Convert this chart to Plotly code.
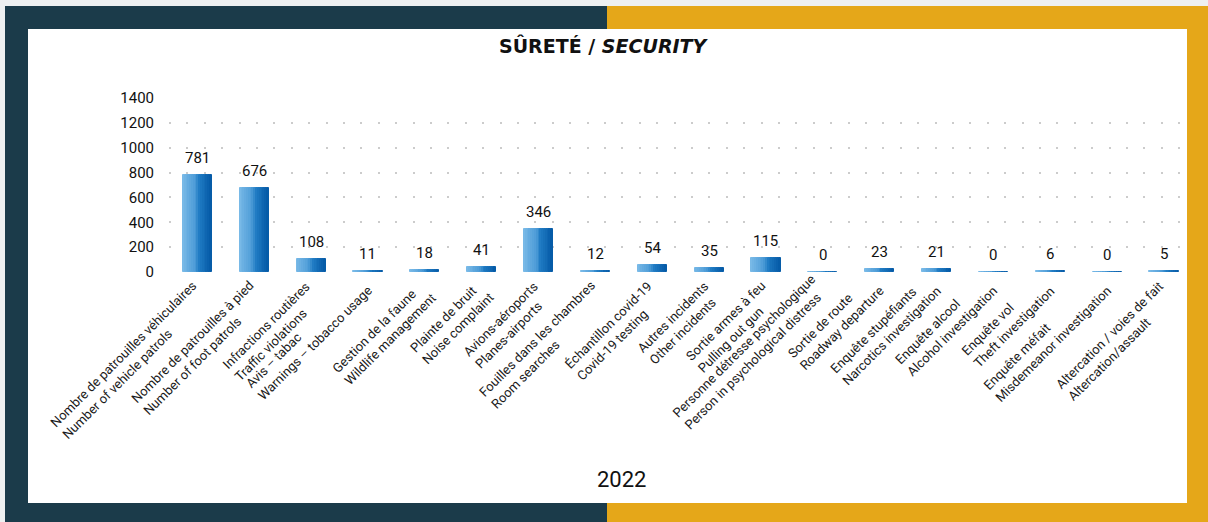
import plotly.graph_objects as go

# ---- data -------------------------------------------------------------
labels_fr = [
    "Nombre de patrouilles véhiculaires",
    "Nombre de patrouilles à pied",
    "Infractions routières",
    "Avis – tabac",
    "Gestion de la faune",
    "Plainte de bruit",
    "Avions-aéroports",
    "Fouilles dans les chambres",
    "Échantillon covid-19",
    "Autres incidents",
    "Sortie armes à feu",
    "Personne détresse psychologique",
    "Sortie de route",
    "Enquête stupéfiants",
    "Enquête alcool",
    "Enquête vol",
    "Enquête méfait",
    "Altercation / voies de fait",
]
labels_en = [
    "Number of vehicle patrols",
    "Number of foot patrols",
    "Traffic violations",
    "Warnings – tobacco usage",
    "Wildlife management",
    "Noise complaint",
    "Planes-airports",
    "Room searches",
    "Covid-19 testing",
    "Other incidents",
    "Pulling out gun",
    "Person in psychological distress",
    "Roadway departure",
    "Narcotics investigation",
    "Alcohol investigation",
    "Theft investigation",
    "Misdemeanor investigation",
    "Altercation/assault",
]
values_2022 = [781, 676, 108, 11, 18, 41, 346, 12, 54, 35, 115, 0, 23, 21, 0, 6, 0, 5]
y_ticks = [0, 200, 400, 600, 800, 1000, 1200, 1400]
year_label = "2022"

# ---- page geometry (pixels) -------------------------------------------
W, H = 1208, 522
ML, MR, MT, MB = 169, 27, 98, 250
PW, PH = W - ML - MR, H - MT - MB

NAVY = "#1b3b4a"
GOLD = "#e5a719"
TEXT = "#1a1a1a"
NARROW = "Roboto, Liberation Sans Narrow, sans-serif"


def px_x(p):
    return (p - ML) / PW


def px_y(p):
    return (H - MB - p) / PH


def lerp_hex(c1, c2, t):
    a = [int(c1[i:i + 2], 16) for i in (1, 3, 5)]
    b = [int(c2[i:i + 2], 16) for i in (1, 3, 5)]
    return "#" + "".join(f"{round(a[k] + (b[k] - a[k]) * t):02x}" for k in range(3))


# horizontal gradient used across each bar
STOPS = [(0.0, "#7bbbe8"), (0.45, "#4c9bd7"), (0.6, "#1f7bc3"), (1.0, "#0459a6")]


def grad(t):
    for (t0, c0), (t1, c1) in zip(STOPS, STOPS[1:]):
        if t <= t1:
            return lerp_hex(c0, c1, (t - t0) / (t1 - t0))
    return STOPS[-1][1]


x_idx = list(range(len(values_2022)))
BAR_W = 0.51
N_SLICES = 16

fig = go.Figure()

# each bar is built from thin vertical slices to give the left-to-right shading
for k in range(N_SLICES):
    col = grad((k + 0.5) / N_SLICES)
    fig.add_trace(go.Bar(
        x=x_idx,
        y=values_2022,
        width=BAR_W / N_SLICES + 0.002,
        offset=-BAR_W / 2 + k * BAR_W / N_SLICES,
        marker=dict(color=col, line=dict(color=col, width=1)),
        hoverinfo="skip",
        showlegend=False,
    ))

annotations = []

# value labels above bars
for i, v in enumerate(values_2022):
    annotations.append(dict(
        x=i, y=v, xref="x", yref="y", text=str(v), showarrow=False,
        yanchor="bottom", xanchor="center", yshift=6,
        font=dict(family=NARROW, size=15, color="#111111"),
    ))

# rotated two-line category labels
LAB_SIZE = 13
LINE_H = LAB_SIZE * 1.3
BLOCK_H = 2 * LINE_H
for i, (fr, en) in enumerate(zip(labels_fr, labels_en)):
    dx = 0.707 * BLOCK_H - 8
    dy = 6.0
    if len(en) > len(fr):
        dx -= 0.707 * LINE_H * 0.6
        dy += 0.707 * LINE_H * 0.6
    annotations.append(dict(
        x=i, y=px_y(283), xref="x", yref="paper",
        text=f"{fr}<br>{en}", showarrow=False, textangle=-45,
        align="left", xanchor="right", yanchor="top",
        xshift=dx, yshift=dy, borderpad=0,
        font=dict(family=NARROW, size=LAB_SIZE, color=TEXT),
    ))

# title
annotations.append(dict(
    x=px_x(604), y=px_y(45), xref="paper", yref="paper",
    text="<b>SÛRETÉ / <i>SECURITY</i></b>", showarrow=False,
    xanchor="center", yanchor="middle",
    font=dict(family="DejaVu Sans, sans-serif", size=19, color="#111111"),
))

# year caption
annotations.append(dict(
    x=px_x(621), y=px_y(479), xref="paper", yref="paper",
    text=year_label, showarrow=False, xanchor="center", yanchor="middle",
    font=dict(family=NARROW, size=22, color="#111111"),
))


# two-tone frame around the white panel
def rect(x0, y0, x1, y1, color):
    return dict(type="rect", xref="paper", yref="paper",
                x0=px_x(x0), x1=px_x(x1), y0=px_y(y1), y1=px_y(y0),
                fillcolor=color, line=dict(width=0), layer="above")


SPLIT = 607
shapes = [
    rect(0, 0, W, 6, "#eef0f1"),
    rect(0, 0, 5, H, "#eef0f1"),
    rect(5, 6, SPLIT, 29, NAVY),
    rect(5, 6, 28, H, NAVY),
    rect(5, 503, SPLIT, H, NAVY),
    rect(SPLIT, 6, W, 29, GOLD),
    rect(1187, 6, W, H, GOLD),
    rect(SPLIT, 503, W, H, GOLD),
]

fig.update_layout(
    width=W, height=H,
    margin=dict(l=ML, r=MR, t=MT, b=MB, pad=0),
    paper_bgcolor="white", plot_bgcolor="white",
    barmode="overlay", bargap=0,
    showlegend=False,
    annotations=annotations,
    shapes=shapes,
    xaxis=dict(
        range=[-0.5, 17.3], showticklabels=False, showgrid=False,
        zeroline=False, showline=False, ticks="", fixedrange=True,
    ),
    yaxis=dict(
        range=[0, 1400], tickmode="array", tickvals=y_ticks,
        ticktext=[str(t) for t in y_ticks],
        tickfont=dict(family=NARROW, size=15, color="#111111"),
        ticklabelstandoff=14,
        showgrid=True, gridcolor="#cccccc", gridwidth=2,
        griddash="2px,15.4px",
        zeroline=True, zerolinecolor="rgba(0,0,0,0)",
        showline=False, ticks="", fixedrange=True,
    ),
)

fig.write_html("out.html")
